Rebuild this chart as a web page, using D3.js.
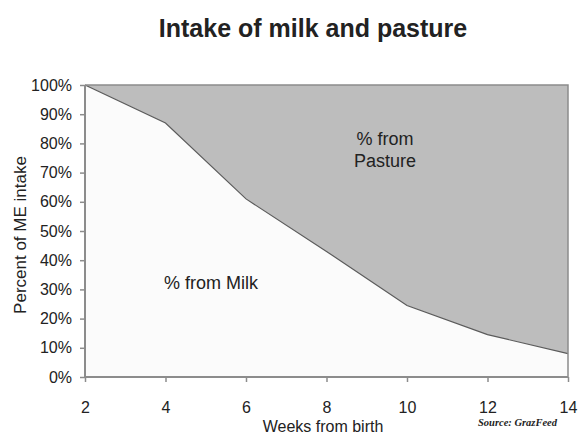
<!DOCTYPE html>
<html><head><meta charset="utf-8">
<script src="https://d3js.org/d3.v7.min.js"></script>
<style>
html,body{margin:0;padding:0;background:#fff;}
svg{display:block;font-family:"Liberation Sans",Arial,sans-serif;}
</style></head>
<body>
<svg id="chart" width="579" height="435"></svg>
<script>
const weeks = [2, 4, 6, 8, 10, 12, 14];
const milkPct = [100, 87, 61, 43, 24.5, 14.5, 8];
const yTicks = [0, 10, 20, 30, 40, 50, 60, 70, 80, 90, 100];
const xTicks = [2, 4, 6, 8, 10, 12, 14];
const title = "Intake of milk and pasture";
const xTitle = "Weeks from birth";
const yTitle = "Percent of ME intake";
const milkLabel = "% from Milk";
const pastureLabel = ["% from", "Pasture"];
const sourceText = "Source: GrazFeed";

const data = weeks.map((w, i) => ({w, v: milkPct[i]}));
const svg = d3.select("#chart");
const x = d3.scaleLinear().domain([2, 14]).range([85, 568]);
const y = d3.scaleLinear().domain([0, 100]).range([377, 85]);

// pasture area (top)
svg.append("path")
  .datum(data)
  .attr("fill", "#bdbdbd")
  .attr("d", d3.area().x(d => x(d.w)).y0(y(100)).y1(d => y(d.v)));
// milk area (bottom)
svg.append("path")
  .datum(data)
  .attr("fill", "#fbfbfb")
  .attr("d", d3.area().x(d => x(d.w)).y0(y(0)).y1(d => y(d.v)));
// boundary line
svg.append("path")
  .datum(data)
  .attr("fill", "none")
  .attr("stroke", "#5a5a5a")
  .attr("stroke-width", 1.2)
  .attr("d", d3.line().x(d => x(d.w)).y(d => y(d.v)));
// top & right border
svg.append("path")
  .attr("fill", "none")
  .attr("stroke", "#8c8c8c")
  .attr("stroke-width", 1.5)
  .attr("d", `M${x(2)},${y(100)}H${x(14)}V${y(0)}`);

// axes
const yAxis = svg.append("g").attr("transform", `translate(${x(2)},0)`)
  .call(d3.axisLeft(y).tickValues(yTicks).tickFormat(d => d + "%").tickSize(5).tickPadding(8));
const xAxis = svg.append("g").attr("transform", `translate(0,${y(0)})`)
  .call(d3.axisBottom(x).tickValues(xTicks).tickFormat(d3.format("d")).tickSize(5).tickPadding(20));
[yAxis, xAxis].forEach(g => {
  g.select(".domain").attr("stroke", "#8c8c8c").attr("stroke-width", 2);
  g.selectAll(".tick line").attr("stroke", "#8c8c8c").attr("stroke-width", 1.5);
  g.selectAll(".tick text").attr("fill", "#222").style("font-size", "16px")
   .style("font-family", "'Liberation Sans',Arial,sans-serif");
});
xAxis.select(".domain").attr("d", `M${x(2)},0H${x(14)}`);
yAxis.select(".domain").attr("d", `M0,${y(0)}V${y(100)}`);

// title
svg.append("text").attr("x", 313).attr("y", 37).attr("text-anchor", "middle")
  .attr("font-weight", "bold").attr("font-size", 25).attr("fill", "#222").text(title);
// axis titles
svg.append("text").attr("x", 323).attr("y", 432).attr("text-anchor", "middle")
  .attr("font-size", 16).attr("fill", "#222").text(xTitle);
svg.append("text").attr("transform", "translate(26,235) rotate(-90)").attr("text-anchor", "middle")
  .attr("font-size", 17).attr("fill", "#222").text(yTitle);
// in-plot labels
svg.append("text").attr("x", 211).attr("y", 289).attr("text-anchor", "middle")
  .attr("font-size", 18).attr("fill", "#222").text(milkLabel);
svg.append("text").attr("x", 385).attr("y", 145).attr("text-anchor", "middle")
  .attr("font-size", 18).attr("fill", "#222")
  .selectAll("tspan").data(pastureLabel).join("tspan")
  .attr("x", 385).attr("dy", (d, i) => i ? 22 : 0).text(d => d);
// source
svg.append("text").attr("x", 557).attr("y", 426).attr("text-anchor", "end")
  .attr("font-family", "'Liberation Serif','Times New Roman',serif")
  .attr("font-style", "italic").attr("font-weight", "bold")
  .attr("font-size", 10.5).attr("fill", "#222").text(sourceText);
</script>
</body></html>
